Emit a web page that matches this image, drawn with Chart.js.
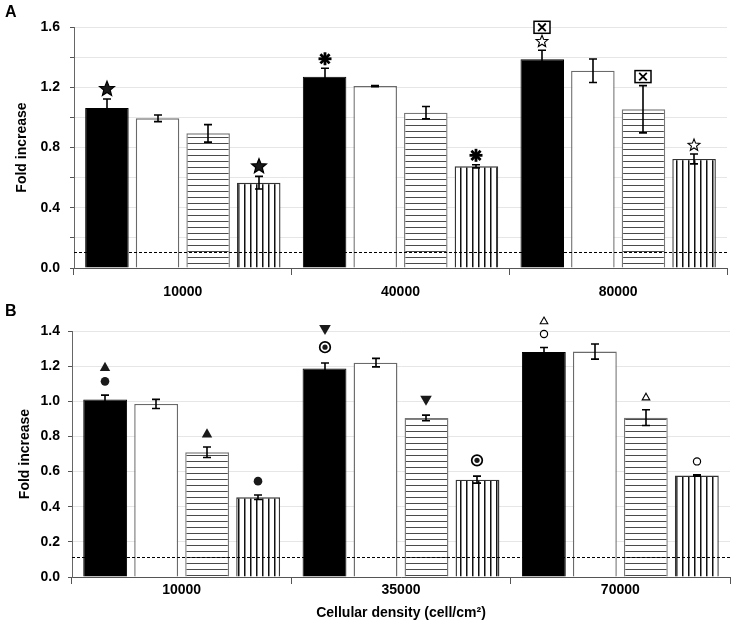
<!DOCTYPE html>
<html><head><meta charset="utf-8">
<script src="https://cdn.jsdelivr.net/npm/chart.js@4"></script>
<style>
html,body{margin:0;padding:0;background:#fff;}
#wrap{position:relative;width:736px;height:632px;overflow:hidden;}
.panel{position:absolute;left:0;}
.lbl{position:absolute;left:5px;font:bold 16px "Liberation Sans",Arial,sans-serif;color:#000;line-height:16px;}
</style></head><body>
<div id="wrap">
<canvas id="cA" class="panel" width="736" height="300" style="top:0;width:736px;height:300px"></canvas>
<canvas id="cB" class="panel" width="736" height="332" style="top:300px;width:736px;height:332px"></canvas>
<div class="lbl" style="top:4px">A</div>
<div class="lbl" style="top:303px">B</div>
</div>
<script>
// ---------- Panel A data ----------
const categoriesA = ['10000', '40000', '80000'];
const blackA      = [1.062, 1.270, 1.386];
const blackErrA   = [0.060, 0.056, 0.060];
const whiteA      = [0.994, 1.208, 1.310];
const whiteErrA   = [0.022, 0.004, 0.078];
const hStripeA    = [0.894, 1.031, 1.054];
const hStripeErrA = [0.058, 0.041, 0.157];
const vStripeA    = [0.566, 0.675, 0.724];
const vStripeErrA = [0.042, 0.010, 0.033];
const baselineA   = 0.104;
const yLabelsA    = [0.0, 0.4, 0.8, 1.2, 1.6];
const marksA = [
  [['starFilled'], ['asterisk'], ['starOpen', 'boxX']],
  [[], [], []],
  [[], [], ['boxX']],
  [['starFilled'], ['asterisk'], ['starOpen']]
];

// ---------- Panel B data ----------
const categoriesB = ['10000', '35000', '70000'];
const blackB      = [1.010, 1.186, 1.281];
const blackErrB   = [0.025, 0.032, 0.025];
const whiteB      = [0.985, 1.220, 1.283];
const whiteErrB   = [0.026, 0.024, 0.043];
const hStripeB    = [0.710, 0.905, 0.907];
const hStripeErrB = [0.030, 0.016, 0.045];
const vStripeB    = [0.454, 0.554, 0.577];
const vStripeErrB = [0.013, 0.020, 0.004];
const baselineB   = 0.114;
const yLabelsB    = [0.0, 0.2, 0.4, 0.6, 0.8, 1.0, 1.2, 1.4];
const marksB = [
  [['circle', 'triUp'], ['circleDot', 'triDown'], ['circleOpen', 'triOpen']],
  [[], [], []],
  [['triUp'], ['triDown'], ['triOpen']],
  [['circle'], ['circleDot'], ['circleOpen']]
];

const FONT = '"Liberation Sans", Arial, sans-serif';

function hPattern(ctx) {
  const c = document.createElement('canvas'); c.width = 8; c.height = 6;
  const x = c.getContext('2d');
  x.fillStyle = '#fff'; x.fillRect(0, 0, 8, 6);
  x.fillStyle = '#4a4a4a'; x.fillRect(0, 5, 8, 1);
  return ctx.createPattern(c, 'repeat');
}
function vPattern(ctx) {
  const c = document.createElement('canvas'); c.width = 6; c.height = 8;
  const x = c.getContext('2d');
  x.fillStyle = '#fff'; x.fillRect(0, 0, 6, 8);
  x.fillStyle = '#111'; x.fillRect(4, 0, 1.5, 8);
  return ctx.createPattern(c, 'repeat');
}

const HALF = {starFilled: 7, asterisk: 6.5, starOpen: 5.7, boxX: 6, circle: 4.3, triUp: 4.5,
              circleDot: 6.3, triDown: 5, circleOpen: 4, triOpen: 3.5};

function starPath(ctx, x, y, R, r) {
  ctx.beginPath();
  for (let k = 0; k < 10; k++) {
    const a = -Math.PI / 2 + k * Math.PI / 5, rr = k % 2 ? r : R;
    ctx.lineTo(x + rr * Math.cos(a), y + rr * Math.sin(a));
  }
  ctx.closePath();
}
function drawMark(ctx, m, x, y) {
  ctx.save();
  ctx.strokeStyle = '#000'; ctx.fillStyle = '#1a1a1a'; ctx.setLineDash([]);
  if (m === 'starFilled') { starPath(ctx, x, y, 7.8, 3.4); ctx.fill(); ctx.lineWidth = 1.2; ctx.stroke(); }
  else if (m === 'starOpen') { starPath(ctx, x, y, 6.2, 2.7); ctx.lineWidth = 1.1; ctx.stroke(); }
  else if (m === 'asterisk') {
    ctx.lineWidth = 2.8;
    for (let k = 0; k < 4; k++) {
      const a = k * Math.PI / 4;
      ctx.beginPath(); ctx.moveTo(x - 6.5 * Math.sin(a), y - 6.5 * Math.cos(a));
      ctx.lineTo(x + 6.5 * Math.sin(a), y + 6.5 * Math.cos(a)); ctx.stroke();
    }
  }
  else if (m === 'boxX') {
    ctx.fillStyle = '#fff'; ctx.fillRect(x - 8, y - 6, 16, 12);
    ctx.lineWidth = 1.5; ctx.strokeRect(x - 8, y - 6, 16, 12);
    ctx.lineWidth = 1.8; ctx.beginPath();
    ctx.moveTo(x - 3.8, y - 3.8); ctx.lineTo(x + 3.8, y + 3.8);
    ctx.moveTo(x + 3.8, y - 3.8); ctx.lineTo(x - 3.8, y + 3.8); ctx.stroke();
  }
  else if (m === 'circle') { ctx.beginPath(); ctx.arc(x, y, 4.3, 0, Math.PI * 2); ctx.fill(); }
  else if (m === 'circleDot') {
    ctx.lineWidth = 1.7; ctx.beginPath(); ctx.arc(x, y, 5.3, 0, Math.PI * 2); ctx.stroke();
    ctx.beginPath(); ctx.arc(x, y, 2.6, 0, Math.PI * 2); ctx.fill();
  }
  else if (m === 'circleOpen') { ctx.lineWidth = 1.2; ctx.beginPath(); ctx.arc(x, y, 3.6, 0, Math.PI * 2); ctx.stroke(); }
  else if (m === 'triUp') {
    ctx.beginPath(); ctx.moveTo(x, y - 4.8); ctx.lineTo(x + 5.2, y + 4.5); ctx.lineTo(x - 5.2, y + 4.5); ctx.closePath(); ctx.fill();
  }
  else if (m === 'triDown') {
    ctx.beginPath(); ctx.moveTo(x - 5.8, y - 5); ctx.lineTo(x + 5.8, y - 5); ctx.lineTo(x, y + 5); ctx.closePath(); ctx.fill();
  }
  else if (m === 'triOpen') {
    ctx.lineWidth = 1.1; ctx.beginPath(); ctx.moveTo(x, y - 3.5); ctx.lineTo(x + 3.8, y + 3.2); ctx.lineTo(x - 3.8, y + 3.2); ctx.closePath(); ctx.stroke();
  }
  ctx.restore();
}

const overlay = {
  id: 'overlay',
  afterDatasetsDraw(chart) {
    const cfg = chart.options.plugins.overlay;
    const {ctx, chartArea} = chart;
    const y = chart.scales.y;
    ctx.save();
    // dotted reference line
    const by = Math.round(y.getPixelForValue(cfg.baseline)) + 0.5;
    ctx.setLineDash([3, 2]); ctx.strokeStyle = '#000'; ctx.lineWidth = 1;
    ctx.beginPath(); ctx.moveTo(chartArea.left, by); ctx.lineTo(chartArea.right, by); ctx.stroke();
    ctx.setLineDash([]);
    chart.data.datasets.forEach((ds, di) => {
      const meta = chart.getDatasetMeta(di);
      meta.data.forEach((bar, i) => {
        const v = ds.data[i], e = ds.errors[i];
        const yt = y.getPixelForValue(v + e), yb = y.getPixelForValue(v - e);
        const x = Math.round(bar.x);
        ctx.strokeStyle = '#000'; ctx.lineWidth = 1.6;
        ctx.beginPath();
        ctx.moveTo(x, yt); ctx.lineTo(x, yb);
        ctx.moveTo(x - 4, yt); ctx.lineTo(x + 4, yt);
        ctx.moveTo(x - 4, yb); ctx.lineTo(x + 4, yb);
        ctx.stroke();
        let cy = Math.min(yt, bar.y) - cfg.gap;
        (ds.marks[i] || []).forEach(m => {
          const h = HALF[m]; cy -= h; drawMark(ctx, m, x, cy); cy -= h + cfg.sep;
        });
      });
    });
    ctx.restore();
  }
};

function makeChart(id, cats, series, errs, marks, baseline, yMax, yLabels, lay) {
  const canvas = document.getElementById(id);
  const ctx = canvas.getContext('2d');
  const fills = ['#000', '#fff', hPattern(ctx), vPattern(ctx)];
  const borders = ['#000', '#6a6a6a', '#777', '#333'];
  const datasets = series.map((d, k) => ({
    data: d, errors: errs[k], marks: marks[k],
    backgroundColor: fills[k], borderColor: borders[k], borderWidth: k === 0 ? 1 : 1.4,
    categoryPercentage: 0.93, barPercentage: 0.86
  }));
  return new Chart(ctx, {
    type: 'bar',
    data: {labels: cats, datasets},
    plugins: [overlay],
    options: {
      responsive: false, animation: false, devicePixelRatio: 1,
      layout: {padding: {top: lay.top, right: lay.right, left: 0, bottom: 0}},
      plugins: {legend: {display: false}, tooltip: {enabled: false},
                overlay: {baseline, gap: lay.gap, sep: lay.sep}},
      scales: {
        x: {
          offset: true,
          grid: {offset: true, drawOnChartArea: false, drawTicks: true, tickLength: 7, tickColor: '#555'},
          border: {color: '#555', width: 1},
          ticks: {font: {family: FONT, size: 14, weight: 'bold'}, color: '#000', padding: lay.xPad},
          title: lay.xTitle ? {display: true, text: lay.xTitle, color: '#000',
                  font: {family: FONT, size: 14, weight: 'bold'}, padding: {top: 0, bottom: lay.xTitlePad}} : {display: false},
          afterFit: s => { s.height = lay.xHeight; }
        },
        y: {
          min: 0, max: yMax,
          grid: {color: c => (c.tick && c.tick.value === 0) ? 'rgba(0,0,0,0)' : '#e6e6e6',
                 tickColor: '#555', tickLength: 4, drawTicks: true},
          border: {color: '#666', width: 1},
          ticks: {stepSize: 0.2, font: {family: FONT, size: 14, weight: 'bold'}, color: '#000', padding: lay.yPad,
                  callback: v => yLabels.some(t => Math.abs(t - v) < 1e-6) ? Number(v).toFixed(1) : ''},
          title: {display: true, text: 'Fold increase', color: '#000',
                  font: {family: FONT, size: 14, weight: 'bold'}, padding: {top: lay.yTitlePad, bottom: 0}},
          afterFit: s => { s.width = lay.yWidth; }
        }
      }
    }
  });
}

makeChart('cA', categoriesA,
  [blackA, whiteA, hStripeA, vStripeA],
  [blackErrA, whiteErrA, hStripeErrA, vStripeErrA],
  marksA, baselineA, 1.6, yLabelsA,
  {top: 27, right: 9, gap: 3, sep: 2.5, xPad: 9, xHeight: 32, yWidth: 74, yPad: 10, yTitlePad: 14});

makeChart('cB', categoriesB,
  [blackB, whiteB, hStripeB, vStripeB],
  [blackErrB, whiteErrB, hStripeErrB, vStripeErrB],
  marksB, baselineB, 1.4, yLabelsB,
  {top: 31, right: 6, gap: 9.5, sep: 6, xPad: -2, xHeight: 55, yWidth: 72, yPad: 8, yTitlePad: 17,
   xTitle: 'Cellular density (cell/cm\u00B2)', xTitlePad: 10.6});
</script>
</body></html>
